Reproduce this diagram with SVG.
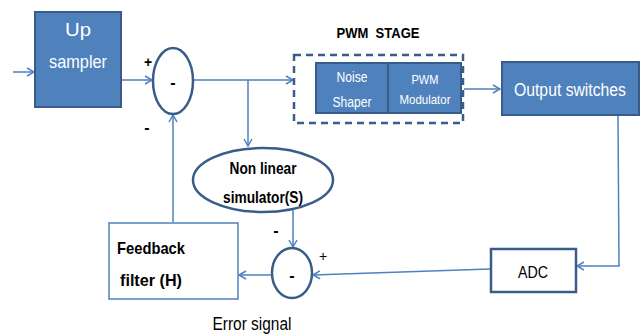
<svg xmlns="http://www.w3.org/2000/svg" width="643" height="335" viewBox="0 0 643 335">
<style>
.blk{fill:#4f81bd;stroke:#385d8a;stroke-width:2}
.wt{fill:#fff;font-family:"Liberation Sans",Arial,sans-serif;text-anchor:middle}
.bk{fill:#000;font-family:"Liberation Sans",Arial,sans-serif}
.b{font-weight:bold}
.sum{fill:#fff;stroke:#385d8a;stroke-width:2.5}
.con{fill:none;stroke:#4f81bd;stroke-width:1.5}
</style>
<defs>
<marker id="ah" markerWidth="10" markerHeight="10" refX="8" refY="5" orient="auto" markerUnits="userSpaceOnUse">
<path d="M1,1 L8,5 L1,9" fill="none" stroke="#4f81bd" stroke-width="1.5"/>
</marker>
</defs>
<g id="connectors">
<line class="con" x1="13" y1="72" x2="34" y2="72" marker-end="url(#ah)"/>
<line class="con" x1="122" y1="80" x2="152" y2="80" marker-end="url(#ah)"/>
<line class="con" x1="194" y1="80" x2="293" y2="80" marker-end="url(#ah)"/>
<polyline class="con" points="248,80 248,146" marker-end="url(#ah)"/>
<line class="con" x1="464" y1="89" x2="500" y2="89" marker-end="url(#ah)"/>
<polyline class="con" points="618,116 619,266 577,266" marker-end="url(#ah)"/>
<line class="con" x1="490" y1="269" x2="313" y2="275" marker-end="url(#ah)"/>
<line class="con" x1="293" y1="205" x2="293" y2="247" marker-end="url(#ah)"/>
<line class="con" x1="271" y1="275" x2="239" y2="275" marker-end="url(#ah)"/>
<line class="con" x1="173" y1="222" x2="173" y2="115" marker-end="url(#ah)"/>
</g>
<g id="upsampler">
<rect class="blk" x="35" y="12" width="86" height="95"/>
<text class="wt" x="78" y="36" font-size="19" textLength="26" lengthAdjust="spacingAndGlyphs">Up</text>
<text class="wt" x="78" y="68" font-size="19" textLength="58" lengthAdjust="spacingAndGlyphs">sampler</text>
</g>
<g id="sum1">
<ellipse class="sum" cx="173" cy="81" rx="20" ry="33"/>
<text class="bk b" x="173" y="88" font-size="16" text-anchor="middle">-</text>
<text class="bk b" x="148" y="67" font-size="14" text-anchor="middle">+</text>
<text class="bk b" x="147" y="133" font-size="16" text-anchor="middle">-</text>
</g>
<g id="pwmstage">
<text class="bk b" x="378" y="38" font-size="15" text-anchor="middle" textLength="83" lengthAdjust="spacingAndGlyphs" xml:space="preserve">PWM  STAGE</text>
<rect x="294" y="55" width="169" height="68" fill="none" stroke="#385d8a" stroke-width="2.5" stroke-dasharray="7,5"/>
</g>
<g id="noiseshaper">
<rect class="blk" x="316" y="63" width="72" height="50"/>
<text class="wt" x="352" y="82" font-size="14" textLength="31" lengthAdjust="spacingAndGlyphs">Noise</text>
<text class="wt" x="352" y="107" font-size="14" textLength="39" lengthAdjust="spacingAndGlyphs">Shaper</text>
</g>
<g id="pwmmodulator">
<rect class="blk" x="388" y="63" width="73" height="50"/>
<text class="wt" x="425" y="84" font-size="13" textLength="27" lengthAdjust="spacingAndGlyphs">PWM</text>
<text class="wt" x="425" y="104" font-size="13" textLength="51" lengthAdjust="spacingAndGlyphs">Modulator</text>
</g>
<g id="outputswitches">
<rect class="blk" x="502" y="62" width="137" height="53"/>
<text class="wt" x="570" y="96" font-size="18" textLength="112" lengthAdjust="spacingAndGlyphs">Output switches</text>
</g>
<g id="nonlinear">
<ellipse class="sum" cx="263" cy="180" rx="70" ry="32"/>
<text class="bk b" x="263" y="174" font-size="16" text-anchor="middle" textLength="67" lengthAdjust="spacingAndGlyphs">Non linear</text>
<text class="bk b" x="263" y="203" font-size="16" text-anchor="middle" textLength="80" lengthAdjust="spacingAndGlyphs">simulator(S)</text>
</g>
<g id="adc">
<rect x="491" y="249" width="85" height="43" fill="#fff" stroke="#385d8a" stroke-width="2.5"/>
<text class="bk" x="533" y="278" font-size="17" text-anchor="middle" textLength="30" lengthAdjust="spacingAndGlyphs">ADC</text>
</g>
<g id="sum2">
<ellipse class="sum" cx="292" cy="273" rx="20" ry="25"/>
<text class="bk b" x="292" y="281" font-size="16" text-anchor="middle">-</text>
<text class="bk b" x="276" y="236" font-size="16" text-anchor="middle">-</text>
<text class="bk" x="323" y="261" font-size="14" text-anchor="middle">+</text>
<text class="bk" x="252" y="330" font-size="17.5" text-anchor="middle" textLength="79" lengthAdjust="spacingAndGlyphs">Error signal</text>
</g>
<g id="feedback">
<rect x="109" y="223" width="129" height="76" fill="#fff" stroke="#4f81bd" stroke-width="1.5"/>
<text class="bk b" x="117" y="254" font-size="17" textLength="68" lengthAdjust="spacingAndGlyphs">Feedback</text>
<text class="bk b" x="120" y="286" font-size="17" textLength="62" lengthAdjust="spacingAndGlyphs">filter (H)</text>
</g>
</svg>
